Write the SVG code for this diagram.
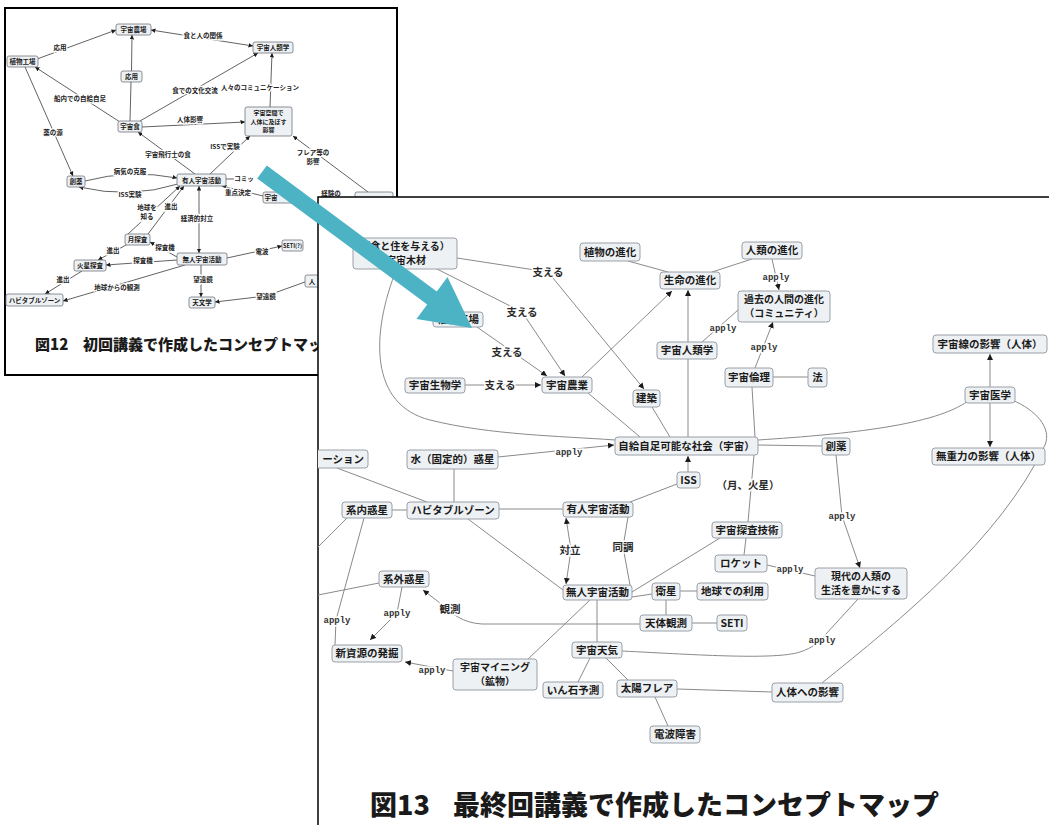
<svg xmlns="http://www.w3.org/2000/svg" width="1049" height="825" viewBox="0 0 1049 825">
<defs>
<style>
text{font-family:'Noto Sans CJK JP','Noto Sans',sans-serif;font-weight:700;fill:#1a1a1a}
.n2 rect{fill:#eef1f3;stroke:#6f757c;stroke-width:0.8}
.t2{font-size:6.5px;text-anchor:middle}
.l2{font-size:6.5px;text-anchor:middle;stroke:#fff;stroke-width:2.5;paint-order:stroke;fill:#222}
.e2 line,.e2 polyline,.e2 path{stroke:#3a3a3a;stroke-width:0.8;fill:none}
.n3 rect{fill:#eef1f4;stroke:#9aa0a7;stroke-width:1}
.t3{font-size:10.5px;text-anchor:middle}
.t3s{font-size:10px;text-anchor:middle}
.l3{font-size:10.5px;text-anchor:middle;stroke:#fff;stroke-width:3;paint-order:stroke;fill:#2a2a2a}
.ap{font-family:'Liberation Mono','DejaVu Sans Mono',monospace;font-size:9px;font-weight:700;text-anchor:middle;stroke:#fff;stroke-width:3;paint-order:stroke;fill:#333}
.e3 line,.e3 polyline,.e3 path{stroke:#8a8a8a;stroke-width:1;fill:none}
.cap{font-weight:900}
</style>
<marker id="a2" viewBox="0 0 10 10" refX="10" refY="5" markerWidth="4.5" markerHeight="4.5" markerUnits="userSpaceOnUse" orient="auto-start-reverse"><path d="M0,0L10,5L0,10z" fill="#1a1a1a"/></marker>
<marker id="a3" viewBox="0 0 10 10" refX="10" refY="5" markerWidth="6" markerHeight="6" markerUnits="userSpaceOnUse" orient="auto-start-reverse"><path d="M0,0L10,5L0,10z" fill="#1a1a1a"/></marker>
<clipPath id="c13"><rect x="318" y="197" width="731" height="628"/></clipPath>
<clipPath id="c12"><rect x="5" y="8" width="392" height="367"/></clipPath>
</defs>
<rect width="1049" height="825" fill="#fff"/>

<!-- Figure 12 panel -->
<g id="fig12">
<rect x="5" y="8" width="392" height="367" fill="#fff" stroke="#000" stroke-width="2"/>
<g clip-path="url(#c12)">
<g id="edges12" class="e2">
<line x1="37" y1="59" x2="116" y2="30" marker-end="url(#a2)"/>
<line x1="253" y1="46" x2="151" y2="30" marker-start="url(#a2)" marker-end="url(#a2)"/>
<line x1="130" y1="121" x2="131" y2="82"/>
<line x1="131.5" y1="71" x2="132" y2="35" marker-end="url(#a2)"/>
<line x1="120" y1="122" x2="35" y2="67" marker-end="url(#a2)"/>
<line x1="140" y1="121" x2="258" y2="53" marker-end="url(#a2)"/>
<line x1="142" y1="127" x2="245" y2="122" marker-end="url(#a2)"/>
<line x1="270" y1="107" x2="272" y2="53" marker-end="url(#a2)"/>
<line x1="25" y1="67" x2="73" y2="176" marker-end="url(#a2)"/>
<line x1="195" y1="174" x2="138" y2="132" marker-end="url(#a2)"/>
<line x1="210" y1="174" x2="250" y2="136" marker-end="url(#a2)"/>
<line x1="368" y1="192" x2="293" y2="136" marker-end="url(#a2)"/>
<path d="M85,181 Q130,169 177,178" marker-end="url(#a2)"/>
<path d="M178,184 Q130,199 79,187" marker-end="url(#a2)"/>
<line x1="226" y1="179" x2="234" y2="179"/>
<line x1="263" y1="196" x2="222" y2="186" marker-end="url(#a2)"/>
<line x1="128" y1="234" x2="180" y2="186" marker-end="url(#a2)"/>
<line x1="148" y1="234" x2="184" y2="186" marker-end="url(#a2)"/>
<line x1="199" y1="186" x2="199" y2="253" marker-start="url(#a2)" marker-end="url(#a2)"/>
<line x1="177" y1="257" x2="150" y2="242" marker-end="url(#a2)"/>
<line x1="128" y1="244" x2="98" y2="260" marker-end="url(#a2)"/>
<line x1="177" y1="260" x2="106" y2="265" marker-end="url(#a2)"/>
<line x1="82" y1="271" x2="45" y2="294" marker-end="url(#a2)"/>
<line x1="185" y1="265" x2="63" y2="301" marker-end="url(#a2)"/>
<line x1="227" y1="258" x2="282" y2="246" marker-end="url(#a2)"/>
<line x1="201" y1="265" x2="201" y2="297" marker-end="url(#a2)"/>
<polyline points="305,282 266,296 215,302" marker-end="url(#a2)"/>
</g>
<g id="labels12">
<text class="l2" x="60" y="50">応用</text>
<text class="l2" x="203" y="38">食と人の関係</text>
<text class="l2" x="195" y="93">食での文化交流</text>
<text class="l2" x="260" y="90">人々のコミュニケーション</text>
<text class="l2" x="80" y="101">船内での自給自足</text>
<text class="l2" x="190" y="122">人体影響</text>
<text class="l2" x="53" y="135">薬の源</text>
<text class="l2" x="168" y="157">宇宙飛行士の食</text>
<text class="l2" x="225" y="149">ISSで実験</text>
<text class="l2" x="313" y="155">フレア等の</text>
<text class="l2" x="313" y="164">影響</text>
<text class="l2" x="130" y="174">病気の克服</text>
<text class="l2" x="244" y="181">コミッ</text>
<text class="l2" x="130" y="197">ISS実験</text>
<text class="l2" x="238" y="195">重点決定</text>
<text class="l2" x="147" y="210">地球を</text>
<text class="l2" x="147" y="219">知る</text>
<text class="l2" x="171" y="209">進出</text>
<text class="l2" x="197" y="221">経済的対立</text>
<text class="l2" x="165" y="250">探査機</text>
<text class="l2" x="113" y="253">進出</text>
<text class="l2" x="143" y="263">探査機</text>
<text class="l2" x="262" y="254">電波</text>
<text class="l2" x="203" y="282">望遠鏡</text>
<text class="l2" x="63" y="282">進出</text>
<text class="l2" x="117" y="290">地球からの観測</text>
<text class="l2" x="266" y="299">望遠鏡</text>
<text class="l2" x="331" y="196">経験の</text>
</g>
<g id="f_nojo" class="n2"><rect x="116" y="24" width="35" height="11" rx="2"/><text class="t2" x="133.5" y="32">宇宙農場</text></g>
<g id="f_jinruigaku" class="n2"><rect x="253" y="42" width="40" height="11" rx="2"/><text class="t2" x="273" y="50">宇宙人類学</text></g>
<g id="f_shokubutsu" class="n2"><rect x="7" y="56" width="31" height="11" rx="2"/><text class="t2" x="22.5" y="64">植物工場</text></g>
<g id="f_oyo" class="n2"><rect x="121" y="71" width="21" height="11" rx="2"/><text class="t2" x="131.5" y="79">応用</text></g>
<g id="f_uchushoku" class="n2"><rect x="118" y="121" width="24" height="11" rx="2"/><text class="t2" x="130" y="129">宇宙食</text></g>
<g id="f_kukan" class="n2"><rect x="245" y="107" width="47" height="29" rx="2"/><text class="t2" x="268.5" y="115" style="font-size:6px">宇宙空間で</text><text class="t2" x="268.5" y="123.5" style="font-size:6px">人体に及ぼす</text><text class="t2" x="268.5" y="132" style="font-size:6px">影響</text></g>
<g id="f_soyaku" class="n2"><rect x="67" y="176" width="18" height="11" rx="2"/><text class="t2" x="76" y="184">創薬</text></g>
<g id="f_yujin" class="n2"><rect x="177" y="174" width="49" height="12" rx="2"/><text class="t2" x="201.5" y="182.5">有人宇宙活動</text></g>
<g id="f_uchu" class="n2"><rect x="263" y="192" width="40" height="11" rx="2"/><text class="t2" x="271" y="200">宇宙</text></g>
<g id="f_getsu" class="n2"><rect x="125" y="234" width="25" height="11" rx="2"/><text class="t2" x="137.5" y="242">月探査</text></g>
<g id="f_seti" class="n2"><rect x="282" y="240" width="21" height="11" rx="2"/><text class="t2" x="292.5" y="248" style="font-size:5.5px">SETI(?)</text></g>
<g id="f_mujin" class="n2"><rect x="177" y="253" width="50" height="12" rx="2"/><text class="t2" x="202" y="261.5">無人宇宙活動</text></g>
<g id="f_kasei" class="n2"><rect x="74" y="260" width="32" height="11" rx="2"/><text class="t2" x="90" y="268">火星探査</text></g>
<g id="f_habitable" class="n2"><rect x="6" y="294" width="57" height="12" rx="2"/><text class="t2" x="34.5" y="302.5">ハビタブルゾーン</text></g>
<g id="f_tenmon" class="n2"><rect x="189" y="297" width="26" height="11" rx="2"/><text class="t2" x="202" y="305">天文学</text></g>
<g id="f_hito" class="n2"><rect x="305" y="275" width="30" height="12" rx="2"/><text class="t2" x="312" y="283.5">人</text></g>
<g id="f_hidden" class="n2"><rect x="355" y="192" width="38" height="12" rx="2"/></g>
<g id="cap12"><text class="cap" x="35" y="350" style="font-size:15px">図12</text><text class="cap" x="83" y="350" style="font-size:15px">初回講義で作成したコンセプトマップ</text></g>
</g>
</g>

<!-- Figure 13 panel -->
<g id="fig13">
<rect x="318" y="197" width="740" height="640" fill="#fff" stroke="#000" stroke-width="1.5"/>
<g clip-path="url(#c13)">
<g id="edges13" class="e3">
<polyline points="457,258 548,272 644,389" marker-end="url(#a3)"/>
<polyline points="435,268 522,312 565,376" marker-end="url(#a3)"/>
<polyline points="477,327 547,376" marker-end="url(#a3)"/>
<line x1="465" y1="385" x2="541" y2="385" marker-end="url(#a3)"/>
<line x1="582" y1="377" x2="672" y2="291" marker-end="url(#a3)"/>
<line x1="588" y1="393" x2="640" y2="437"/>
<line x1="652" y1="407" x2="670" y2="437"/>
<line x1="688" y1="437" x2="688" y2="290" marker-end="url(#a3)"/>
<line x1="628" y1="261" x2="668" y2="272"/>
<line x1="752" y1="259" x2="712" y2="272"/>
<line x1="772" y1="259" x2="779" y2="290" marker-end="url(#a3)"/>
<line x1="702" y1="342" x2="738" y2="310"/>
<line x1="755" y1="368" x2="773" y2="322" marker-end="url(#a3)"/>
<line x1="773" y1="377" x2="808" y2="377"/>
<line x1="752" y1="387" x2="755" y2="437"/>
<line x1="754" y1="455" x2="748" y2="522"/>
<line x1="990" y1="387" x2="990" y2="354" marker-end="url(#a3)"/>
<line x1="990" y1="403" x2="990" y2="447" marker-end="url(#a3)"/>
<path d="M758,440 C850,434 935,425 968,401"/>
<line x1="758" y1="445" x2="822" y2="446"/>
<polyline points="836,455 842,516 860,568" marker-end="url(#a3)"/>
<path d="M1012,400 C1036,410 1052,428 1045,445 C1000,540 900,620 822,683"/>
<path d="M622,651 C700,655 775,660 800,652 C812,648 820,642 826,634 L858,599"/>
<line x1="767" y1="565" x2="815" y2="576"/>
<line x1="498" y1="457" x2="614" y2="445" marker-end="url(#a3)"/>
<path d="M397,268 C370,335 370,405 430,420 C490,435 560,436 615,440"/>
<line x1="337" y1="468" x2="427" y2="502"/>
<line x1="454" y1="469" x2="454" y2="502"/>
<line x1="392" y1="510" x2="407" y2="510"/>
<line x1="499" y1="509" x2="563" y2="509"/>
<line x1="468" y1="519" x2="563" y2="590"/>
<polyline points="566,518 571,550 566,584" marker-start="url(#a3)" marker-end="url(#a3)"/>
<polyline points="628,517 623,547 630,585"/>
<line x1="688" y1="472" x2="688" y2="456" marker-end="url(#a3)"/>
<line x1="677" y1="484" x2="630" y2="502"/>
<line x1="720" y1="538" x2="632" y2="592"/>
<line x1="746" y1="538" x2="744" y2="555"/>
<line x1="632" y1="597" x2="652" y2="594"/>
<line x1="680" y1="591" x2="697" y2="591"/>
<line x1="666" y1="600" x2="666" y2="615"/>
<line x1="692" y1="623" x2="717" y2="623"/>
<path d="M640,624 L482,624 C463,623 452,614 440,603 L423,590" marker-end="url(#a3)"/>
<line x1="318" y1="595" x2="379" y2="583"/>
<line x1="347" y1="518" x2="318" y2="547"/>
<polyline points="364,518 336,620 335,645"/>
<polyline points="402,587 397,613 370,640" marker-end="url(#a3)"/>
<line x1="453" y1="671" x2="405" y2="662" marker-end="url(#a3)"/>
<line x1="590" y1="600" x2="527" y2="660"/>
<line x1="597" y1="600" x2="597" y2="642"/>
<line x1="590" y1="658" x2="578" y2="682"/>
<line x1="606" y1="658" x2="628" y2="680"/>
<line x1="655" y1="697" x2="668" y2="726"/>
<line x1="677" y1="689" x2="772" y2="692"/>
</g>
<g id="labels13">
<text class="l3" x="548" y="276">支える</text>
<text class="l3" x="522" y="316">支える</text>
<text class="l3" x="507" y="356">支える</text>
<text class="l3" x="500" y="389">支える</text>
<text class="ap" x="776" y="280">apply</text>
<text class="ap" x="723" y="331">apply</text>
<text class="ap" x="764" y="350">apply</text>
<text class="ap" x="569" y="455">apply</text>
<text class="ap" x="842" y="519">apply</text>
<text class="ap" x="790" y="572">apply</text>
<text class="ap" x="822" y="643">apply</text>
<text class="ap" x="397" y="616">apply</text>
<text class="ap" x="337" y="623">apply</text>
<text class="ap" x="432" y="673">apply</text>
<text class="l3" x="450" y="613">観測</text>
<text class="l3" x="570" y="554">対立</text>
<text class="l3" x="623" y="551">同調</text>
<text class="l3" x="748" y="489">（月、火星）</text>
</g>
<g id="n_mokuzai" class="n3"><rect x="353" y="238" width="104" height="31" rx="3"/><text class="t3s" x="405" y="250">（食と住を与える）</text><text class="t3s" x="406" y="264">宇宙木材</text></g>
<g id="n_kojo" class="n3"><rect x="433" y="312" width="50" height="15" rx="3"/><text class="t3" x="458" y="323">植物工場</text></g>
<g id="n_seibutsu" class="n3"><rect x="405" y="378" width="60" height="15" rx="3"/><text class="t3" x="435" y="389">宇宙生物学</text></g>
<g id="n_nogyo" class="n3"><rect x="542" y="377" width="50" height="16" rx="3"/><text class="t3" x="567" y="389">宇宙農業</text></g>
<g id="n_shokubutsu" class="n3"><rect x="580" y="243" width="60" height="18" rx="3"/><text class="t3" x="610" y="256">植物の進化</text></g>
<g id="n_jinrui" class="n3"><rect x="742" y="242" width="60" height="17" rx="3"/><text class="t3" x="772" y="254">人類の進化</text></g>
<g id="n_seimei" class="n3"><rect x="660" y="272" width="60" height="17" rx="3"/><text class="t3" x="690" y="284">生命の進化</text></g>
<g id="n_kako" class="n3"><rect x="738" y="291" width="92" height="31" rx="3"/><text class="t3s" x="784" y="303">過去の人間の進化</text><text class="t3s" x="784" y="317">（コミュニティ）</text></g>
<g id="n_jinruigaku" class="n3"><rect x="657" y="342" width="60" height="17" rx="3"/><text class="t3" x="687" y="354">宇宙人類学</text></g>
<g id="n_rinri" class="n3"><rect x="725" y="368" width="48" height="19" rx="3"/><text class="t3" x="749" y="381">宇宙倫理</text></g>
<g id="n_ho" class="n3"><rect x="808" y="368" width="19" height="19" rx="3"/><text class="t3" x="817.5" y="381">法</text></g>
<g id="n_kenchiku" class="n3"><rect x="633" y="390" width="27" height="17" rx="3"/><text class="t3" x="646.5" y="402">建築</text></g>
<g id="n_uchusen" class="n3"><rect x="933" y="335" width="114" height="18" rx="3"/><text class="t3" x="990" y="348">宇宙線の影響（人体）</text></g>
<g id="n_igaku" class="n3"><rect x="965" y="387" width="50" height="16" rx="3"/><text class="t3" x="990" y="399">宇宙医学</text></g>
<g id="n_jikyu" class="n3"><rect x="615" y="437" width="143" height="18" rx="3"/><text class="t3" x="686.5" y="450">自給自足可能な社会（宇宙）</text></g>
<g id="n_soyaku" class="n3"><rect x="822" y="438" width="28" height="17" rx="3"/><text class="t3" x="836" y="450">創薬</text></g>
<g id="n_mujuryoku" class="n3"><rect x="932" y="448" width="113" height="17" rx="3"/><text class="t3" x="988.5" y="460">無重力の影響（人体）</text></g>
<g id="n_shon" class="n3"><rect x="290" y="450" width="78" height="18" rx="3"/><text class="t3" x="364" y="463" style="text-anchor:end">ーション</text></g>
<g id="n_mizu" class="n3"><rect x="407" y="450" width="91" height="19" rx="3"/><text class="t3" x="452.5" y="463">水（固定的）惑星</text></g>
<g id="n_iss" class="n3"><rect x="677" y="472" width="23" height="16" rx="3"/><text class="t3" x="688.5" y="484">ISS</text></g>
<g id="n_keinai" class="n3"><rect x="342" y="502" width="50" height="16" rx="3"/><text class="t3" x="367" y="514">系内惑星</text></g>
<g id="n_habitable" class="n3"><rect x="407" y="502" width="92" height="17" rx="3"/><text class="t3" x="453" y="514">ハビタブルゾーン</text></g>
<g id="n_yujin" class="n3"><rect x="563" y="502" width="70" height="15" rx="3"/><text class="t3" x="598" y="513">有人宇宙活動</text></g>
<g id="n_tansa" class="n3"><rect x="712" y="522" width="70" height="16" rx="3"/><text class="t3" x="747" y="534">宇宙探査技術</text></g>
<g id="n_rocket" class="n3"><rect x="715" y="555" width="52" height="17" rx="3"/><text class="t3" x="741" y="567">ロケット</text></g>
<g id="n_gendai" class="n3"><rect x="815" y="568" width="92" height="31" rx="3"/><text class="t3s" x="861" y="580">現代の人類の</text><text class="t3s" x="861" y="594">生活を豊かにする</text></g>
<g id="n_keigai" class="n3"><rect x="379" y="571" width="50" height="16" rx="3"/><text class="t3" x="404" y="583">系外惑星</text></g>
<g id="n_mujin" class="n3"><rect x="563" y="585" width="69" height="15" rx="3"/><text class="t3" x="597.5" y="596">無人宇宙活動</text></g>
<g id="n_eisei" class="n3"><rect x="652" y="583" width="28" height="17" rx="3"/><text class="t3" x="666" y="595">衛星</text></g>
<g id="n_chikyu" class="n3"><rect x="697" y="583" width="71" height="17" rx="3"/><text class="t3" x="732.5" y="595">地球での利用</text></g>
<g id="n_tentai" class="n3"><rect x="640" y="615" width="52" height="16" rx="3"/><text class="t3" x="666" y="627">天体観測</text></g>
<g id="n_seti" class="n3"><rect x="717" y="615" width="30" height="16" rx="3"/><text class="t3" x="732" y="627">SETI</text></g>
<g id="n_shinshigen" class="n3"><rect x="332" y="645" width="70" height="17" rx="3"/><text class="t3" x="367" y="657">新資源の発掘</text></g>
<g id="n_mining" class="n3"><rect x="453" y="659" width="84" height="31" rx="3"/><text class="t3s" x="495" y="671">宇宙マイニング</text><text class="t3s" x="495" y="685">（鉱物）</text></g>
<g id="n_tenki" class="n3"><rect x="572" y="642" width="50" height="16" rx="3"/><text class="t3" x="597" y="654">宇宙天気</text></g>
<g id="n_inseki" class="n3"><rect x="543" y="682" width="60" height="16" rx="3"/><text class="t3" x="573" y="694">いん石予測</text></g>
<g id="n_flare" class="n3"><rect x="617" y="680" width="60" height="17" rx="3"/><text class="t3" x="647" y="692">太陽フレア</text></g>
<g id="n_jintai" class="n3"><rect x="772" y="683" width="71" height="19" rx="3"/><text class="t3" x="807.5" y="696">人体への影響</text></g>
<g id="n_denpa" class="n3"><rect x="650" y="726" width="50" height="17" rx="3"/><text class="t3" x="675" y="738">電波障害</text></g>
<g id="cap13"><text class="cap" x="370" y="815" style="font-size:27px">図13</text><text class="cap" x="453" y="815" style="font-size:27px">最終回講義で作成したコンセプトマップ</text></g>
</g>
</g>

<!-- teal arrow -->
<g id="teal-arrow">
<polygon points="266.8,165.6 436.8,291.6 447.5,277.1 472,328 416.5,318.9 427.2,304.4 257.2,178.4" fill="#4cb3c5"/>
</g>
</svg>
